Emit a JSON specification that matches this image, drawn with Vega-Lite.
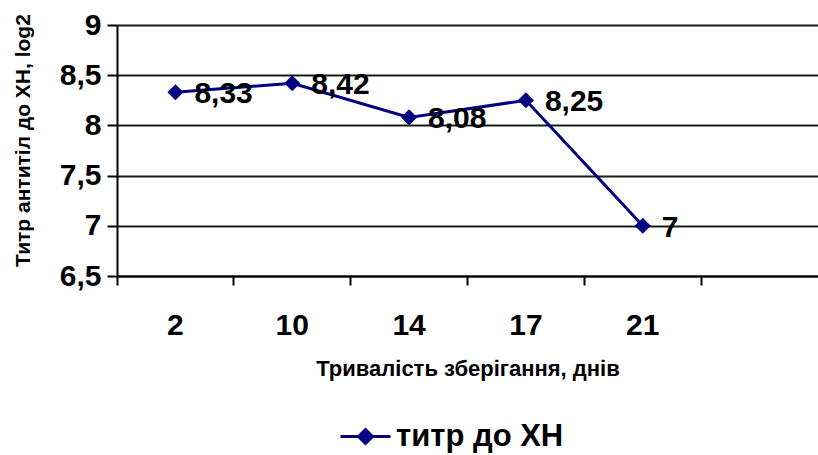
{
  "$schema": "https://vega.github.io/schema/vega-lite/v6.json",
  "width": 701,
  "height": 251,
  "autosize": {"type": "none"},
  "padding": {"left": 117, "top": 25, "right": 0, "bottom": 179},
  "background": "white",
  "config": {
    "locale": {"number": {"decimal": ",", "thousands": " ", "grouping": [3], "currency": ["", ""]}},
    "font": "Liberation Sans",
    "view": {"stroke": null}
  },
  "data": {
    "values": [
      {"day": "2", "titer": 8.33, "series": "титр до ХН"},
      {"day": "10", "titer": 8.42, "series": "титр до ХН"},
      {"day": "14", "titer": 8.08, "series": "титр до ХН"},
      {"day": "17", "titer": 8.25, "series": "титр до ХН"},
      {"day": "21", "titer": 7, "series": "титр до ХН"}
    ]
  },
  "encoding": {
    "x": {
      "field": "day",
      "type": "ordinal",
      "sort": null,
      "scale": {"type": "band", "domain": ["2", "10", "14", "17", "21", "_"], "paddingInner": 0, "paddingOuter": 0},
      "axis": {
        "title": "Тривалість зберігання, днів",
        "titleFontSize": 22,
        "titleFontWeight": "bold",
        "titlePadding": 18,
        "titleColor": "black",
        "labelAngle": 0,
        "labelFontSize": 30,
        "labelFontWeight": "bold",
        "labelColor": "black",
        "labelPadding": 25,
        "labelExpr": "datum.value == '_' ? '' : datum.label",
        "bandPosition": 0,
        "tickSize": 9,
        "tickWidth": 2,
        "tickColor": "black",
        "domainColor": "black",
        "domainWidth": 2,
        "grid": false
      }
    },
    "y": {
      "field": "titer",
      "type": "quantitative",
      "scale": {"domain": [6.5, 9], "nice": false, "zero": false},
      "axis": {
        "title": "Титр антитіл до ХН, log2",
        "titleFontSize": 21,
        "titleFontWeight": "bold",
        "titleColor": "black",
        "titlePadding": 26,
        "titleY": 115,
        "values": [6.5, 7, 7.5, 8, 8.5, 9],
        "format": ".2~f",
        "labelFontSize": 30,
        "labelFontWeight": "bold",
        "labelColor": "black",
        "labelPadding": 6,
        "tickSize": 10,
        "tickWidth": 2,
        "tickColor": "black",
        "domainColor": "black",
        "domainWidth": 2,
        "grid": true,
        "gridColor": "black",
        "gridWidth": 2,
        "gridOpacity": 0.9
      }
    }
  },
  "layer": [
    {
      "mark": {"type": "line", "strokeWidth": 3},
      "encoding": {
        "color": {
          "field": "series",
          "type": "nominal",
          "scale": {"range": ["#000080"]},
          "legend": {
            "title": null,
            "orient": "none",
            "legendX": 222,
            "legendY": 385,
            "symbolType": "M-1,0L1,0M-0.28,0L0,-0.28L0.28,0L0,0.28Z",
            "symbolSize": 2500,
            "symbolStrokeWidth": 3,
            "symbolFillColor": "#000080",
            "symbolStrokeColor": "#000080",
            "labelFontSize": 31,
            "labelFontWeight": "bold",
            "labelColor": "black",
            "labelOffset": 4,
            "labelLimit": 0
          }
        }
      }
    },
    {
      "mark": {"type": "point", "shape": "diamond", "filled": true, "size": 260, "color": "#000080", "opacity": 1}
    },
    {
      "mark": {"type": "text", "align": "left", "baseline": "middle", "dx": 19, "dy": 2, "fontSize": 30, "fontWeight": "bold", "color": "black"},
      "encoding": {
        "text": {"field": "titer", "type": "quantitative", "format": ".2~f"}
      }
    }
  ]
}
